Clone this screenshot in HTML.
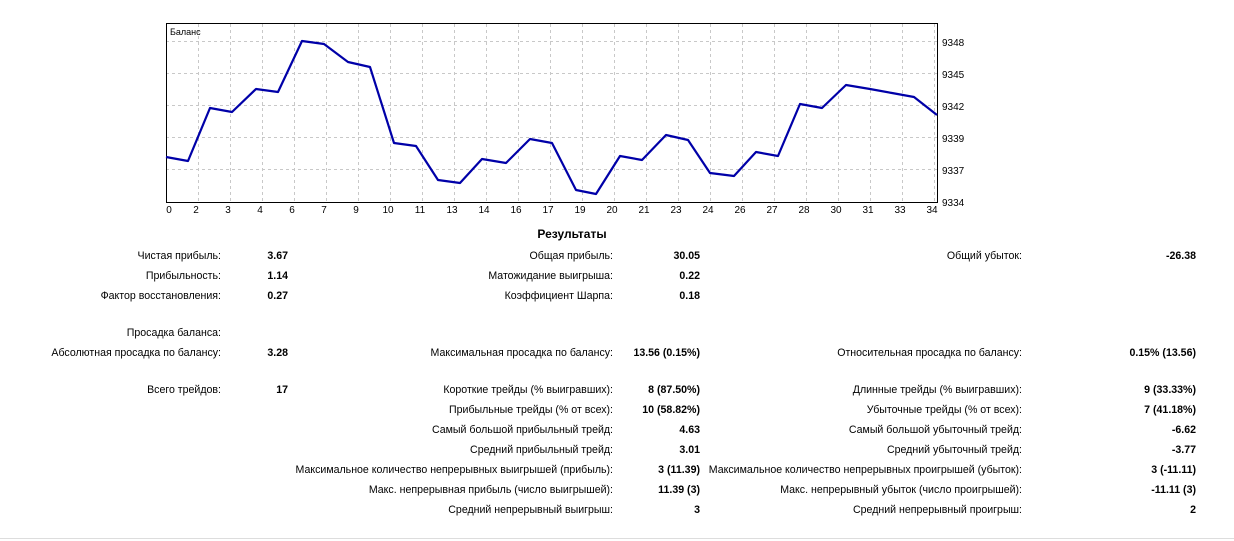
<!DOCTYPE html>
<html><head><meta charset="utf-8"><style>
body{margin:0;width:1234px;height:541px;background:#fff;position:relative;overflow:hidden;font-family:"Liberation Sans","DejaVu Sans",sans-serif;font-size:10.6px;color:#000}
.r{position:absolute;text-align:right;white-space:nowrap;line-height:13px}
.b{font-weight:bold}
</style></head><body>
<svg width="1234" height="541" style="position:absolute;left:0;top:0" font-family="Liberation Sans, sans-serif" font-size="10">
<g stroke="#c8c8c8" stroke-dasharray="3,3" stroke-width="1">
<line x1="166" y1="41.5" x2="937" y2="41.5"/><line x1="166" y1="73.5" x2="937" y2="73.5"/><line x1="166" y1="105.5" x2="937" y2="105.5"/><line x1="166" y1="137.5" x2="937" y2="137.5"/><line x1="166" y1="169.5" x2="937" y2="169.5"/>
<line x1="198.5" y1="24" x2="198.5" y2="202"/><line x1="230.5" y1="24" x2="230.5" y2="202"/><line x1="262.5" y1="24" x2="262.5" y2="202"/><line x1="294.5" y1="24" x2="294.5" y2="202"/><line x1="326.5" y1="24" x2="326.5" y2="202"/><line x1="358.5" y1="24" x2="358.5" y2="202"/><line x1="390.5" y1="24" x2="390.5" y2="202"/><line x1="422.5" y1="24" x2="422.5" y2="202"/><line x1="454.5" y1="24" x2="454.5" y2="202"/><line x1="486.5" y1="24" x2="486.5" y2="202"/><line x1="518.5" y1="24" x2="518.5" y2="202"/><line x1="550.5" y1="24" x2="550.5" y2="202"/><line x1="582.5" y1="24" x2="582.5" y2="202"/><line x1="614.5" y1="24" x2="614.5" y2="202"/><line x1="646.5" y1="24" x2="646.5" y2="202"/><line x1="678.5" y1="24" x2="678.5" y2="202"/><line x1="710.5" y1="24" x2="710.5" y2="202"/><line x1="742.5" y1="24" x2="742.5" y2="202"/><line x1="774.5" y1="24" x2="774.5" y2="202"/><line x1="806.5" y1="24" x2="806.5" y2="202"/><line x1="838.5" y1="24" x2="838.5" y2="202"/><line x1="870.5" y1="24" x2="870.5" y2="202"/><line x1="902.5" y1="24" x2="902.5" y2="202"/><line x1="934.5" y1="24" x2="934.5" y2="202"/>
</g>
<rect x="166.5" y="23.5" width="771" height="179" fill="none" stroke="#000"/>
<polyline fill="none" stroke="#0000a8" stroke-width="2.2" stroke-linejoin="round" points="166,157 188,161 210,108 232,112 256,89 278,92 302,41 324,44 348,62 370,67 394,143 416,146 438,180 460,183 482,159 506,163 530,139 552,143 576,190 596,194 620,156 642,160 666,135 688,140 710,173 734,176 756,152 778,156 800,104 822,108 846,85 870,89 892,93 914,97 937,115"/>
<text x="170" y="35" font-size="9">Баланс</text>
<g text-anchor="start"><text x="942" y="46">9348</text><text x="942" y="78">9345</text><text x="942" y="110">9342</text><text x="942" y="142">9339</text><text x="942" y="174">9337</text><text x="942" y="206">9334</text></g>
<g text-anchor="middle"><text x="169" y="213">0</text><text x="196" y="213">2</text><text x="228" y="213">3</text><text x="260" y="213">4</text><text x="292" y="213">6</text><text x="324" y="213">7</text><text x="356" y="213">9</text><text x="388" y="213">10</text><text x="420" y="213">11</text><text x="452" y="213">13</text><text x="484" y="213">14</text><text x="516" y="213">16</text><text x="548" y="213">17</text><text x="580" y="213">19</text><text x="612" y="213">20</text><text x="644" y="213">21</text><text x="676" y="213">23</text><text x="708" y="213">24</text><text x="740" y="213">26</text><text x="772" y="213">27</text><text x="804" y="213">28</text><text x="836" y="213">30</text><text x="868" y="213">31</text><text x="900" y="213">33</text><text x="932" y="213">34</text></g>
<line x1="0" y1="538.5" x2="1234" y2="538.5" stroke="#ddd"/>
</svg>
<div class="r b" style="left:472px;width:200px;top:228px;text-align:center;font-size:12px">Результаты</div>

<div class="r" style="right:1013px;top:250px">Чистая прибыль:</div><div class="r b" style="right:946px;top:250px">3.67</div>
<div class="r" style="right:1013px;top:270px">Прибыльность:</div><div class="r b" style="right:946px;top:270px">1.14</div>
<div class="r" style="right:1013px;top:290px">Фактор восстановления:</div><div class="r b" style="right:946px;top:290px">0.27</div>
<div class="r" style="right:1013px;top:327px">Просадка баланса:</div>
<div class="r" style="right:1013px;top:347px">Абсолютная просадка по балансу:</div><div class="r b" style="right:946px;top:347px">3.28</div>
<div class="r" style="right:1013px;top:384px">Всего трейдов:</div><div class="r b" style="right:946px;top:384px">17</div>

<div class="r" style="right:621px;top:250px">Общая прибыль:</div><div class="r b" style="right:534px;top:250px">30.05</div>
<div class="r" style="right:621px;top:270px">Матожидание выигрыша:</div><div class="r b" style="right:534px;top:270px">0.22</div>
<div class="r" style="right:621px;top:290px">Коэффициент Шарпа:</div><div class="r b" style="right:534px;top:290px">0.18</div>
<div class="r" style="right:621px;top:347px">Максимальная просадка по балансу:</div><div class="r b" style="right:534px;top:347px">13.56 (0.15%)</div>
<div class="r" style="right:621px;top:384px">Короткие трейды (% выигравших):</div><div class="r b" style="right:534px;top:384px">8 (87.50%)</div>
<div class="r" style="right:621px;top:404px">Прибыльные трейды (% от всех):</div><div class="r b" style="right:534px;top:404px">10 (58.82%)</div>
<div class="r" style="right:621px;top:424px">Самый большой прибыльный трейд:</div><div class="r b" style="right:534px;top:424px">4.63</div>
<div class="r" style="right:621px;top:444px">Средний прибыльный трейд:</div><div class="r b" style="right:534px;top:444px">3.01</div>
<div class="r" style="right:621px;top:464px">Максимальное количество непрерывных выигрышей (прибыль):</div><div class="r b" style="right:534px;top:464px">3 (11.39)</div>
<div class="r" style="right:621px;top:484px">Макс. непрерывная прибыль (число выигрышей):</div><div class="r b" style="right:534px;top:484px">11.39 (3)</div>
<div class="r" style="right:621px;top:504px">Средний непрерывный выигрыш:</div><div class="r b" style="right:534px;top:504px">3</div>

<div class="r" style="right:212px;top:250px">Общий убыток:</div><div class="r b" style="right:38px;top:250px">-26.38</div>
<div class="r" style="right:212px;top:347px">Относительная просадка по балансу:</div><div class="r b" style="right:38px;top:347px">0.15% (13.56)</div>
<div class="r" style="right:212px;top:384px">Длинные трейды (% выигравших):</div><div class="r b" style="right:38px;top:384px">9 (33.33%)</div>
<div class="r" style="right:212px;top:404px">Убыточные трейды (% от всех):</div><div class="r b" style="right:38px;top:404px">7 (41.18%)</div>
<div class="r" style="right:212px;top:424px">Самый большой убыточный трейд:</div><div class="r b" style="right:38px;top:424px">-6.62</div>
<div class="r" style="right:212px;top:444px">Средний убыточный трейд:</div><div class="r b" style="right:38px;top:444px">-3.77</div>
<div class="r" style="right:212px;top:464px">Максимальное количество непрерывных проигрышей (убыток):</div><div class="r b" style="right:38px;top:464px">3 (-11.11)</div>
<div class="r" style="right:212px;top:484px">Макс. непрерывный убыток (число проигрышей):</div><div class="r b" style="right:38px;top:484px">-11.11 (3)</div>
<div class="r" style="right:212px;top:504px">Средний непрерывный проигрыш:</div><div class="r b" style="right:38px;top:504px">2</div>
</body></html>
